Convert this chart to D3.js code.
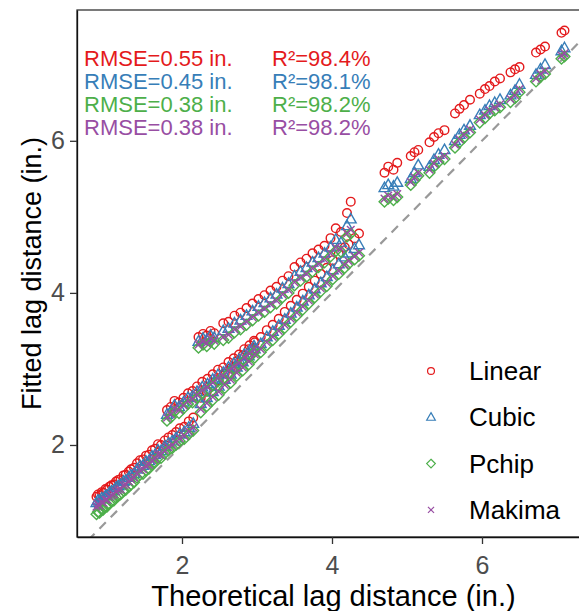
<!DOCTYPE html>
<html lang="en">
<head>
<meta charset="UTF-8">
<title>Fitted vs theoretical lag distance</title>
<script src="https://d3js.org/d3.v7.min.js"></script>
<style>
  body { margin: 0; background: #fff; }
  svg text { font-family: "Liberation Sans", Arial, sans-serif; }
</style>
</head>
<body>
<svg id="chart" width="579" height="611"></svg>
<script>
// theoretical lag distance (in.), shared by all four fits
var lagX = [
  // lower band
  0.86, 0.88, 0.90, 0.93, 0.95, 0.98, 1.00, 1.03, 1.06, 1.09, 1.12, 1.15, 1.18, 1.22, 1.25, 1.29, 1.32, 1.36,
  1.40, 1.44, 1.48, 1.52, 1.56, 1.60, 1.64, 1.68, 1.72, 1.77, 1.82, 1.87, 1.92, 1.97, 2.03, 2.09, 2.15,
  // middle band
  1.80, 1.85, 1.90, 1.96, 2.02, 2.08, 2.14, 2.20, 2.27, 2.34, 2.41, 2.48, 2.55, 2.62, 2.69, 2.76, 2.83, 2.90, 2.96,
  // small cluster near 3.4
  2.22, 2.28, 2.33, 2.38, 2.43,
  // upper band
  2.55, 2.62, 2.70, 2.78, 2.86, 2.94, 3.02, 3.10, 3.18, 3.26, 3.34, 3.42, 3.50, 3.58, 3.66, 3.74, 3.82, 3.90,
  3.98, 4.05, 4.12, 4.20, 4.25,
  // band close to the 1:1 line
  2.25, 2.33, 2.41, 2.49, 2.57, 2.65, 2.73, 2.81, 2.89, 2.97, 3.05, 3.13, 3.21, 3.29, 3.37, 3.45, 3.53, 3.61,
  3.69, 3.77, 3.85, 3.93, 4.01, 4.09, 4.17, 4.22, 4.30, 4.36,
  // long lags
  4.70, 4.75, 4.82, 4.87, 5.05, 5.10, 5.15, 5.30, 5.36, 5.42, 5.50, 5.64, 5.70, 5.76, 5.84, 5.97, 6.04, 6.10,
  6.17, 6.24, 6.38, 6.44, 6.50, 6.72, 6.78, 6.84, 7.06, 7.10
];

var linearY = [
  1.32, 1.35, 1.33, 1.38, 1.37, 1.42, 1.41, 1.45, 1.47, 1.48, 1.52, 1.54, 1.55, 1.60, 1.61, 1.65, 1.68, 1.70,
  1.76, 1.80, 1.81, 1.86, 1.87, 1.93, 1.95, 2.01, 2.00, 2.06, 2.10, 2.13, 2.17, 2.22, 2.24, 2.31, 2.36,
  2.46, 2.50, 2.58, 2.56, 2.62, 2.68, 2.71, 2.77, 2.83, 2.87, 2.93, 2.99, 3.02, 3.09, 3.14, 3.19, 3.26, 3.31, 3.37,
  3.42, 3.46, 3.44, 3.50, 3.47,
  3.60, 3.62, 3.70, 3.74, 3.80, 3.86, 3.92, 3.97, 4.03, 4.08, 4.16, 4.22, 4.34, 4.40, 4.45, 4.52, 4.57, 4.62,
  4.72, 4.85, 4.80, 5.05, 5.20,
  2.62, 2.70, 2.78, 2.85, 2.94, 3.01, 3.10, 3.18, 3.26, 3.35, 3.42, 3.51, 3.58, 3.66, 3.75, 3.83, 3.91, 3.99,
  4.08, 4.16, 4.25, 4.33, 4.43, 4.51, 4.60, 4.64, 4.72, 4.78,
  5.58, 5.66, 5.62, 5.71, 5.80, 5.85, 5.88, 5.98, 6.05, 6.10, 6.14, 6.36, 6.42, 6.47, 6.54, 6.62, 6.68, 6.72,
  6.78, 6.82, 6.90, 6.94, 6.97, 7.16, 7.20, 7.24, 7.42, 7.45
];

var cubicY = [
  1.24, 1.27, 1.26, 1.30, 1.29, 1.33, 1.33, 1.37, 1.39, 1.40, 1.44, 1.46, 1.47, 1.52, 1.53, 1.57, 1.60, 1.62,
  1.68, 1.72, 1.73, 1.78, 1.79, 1.85, 1.87, 1.93, 1.92, 1.98, 2.02, 2.05, 2.09, 2.14, 2.17, 2.23, 2.28,
  2.40, 2.44, 2.52, 2.50, 2.56, 2.62, 2.64, 2.70, 2.76, 2.80, 2.86, 2.92, 2.95, 3.02, 3.07, 3.12, 3.19, 3.24, 3.30,
  3.36, 3.40, 3.38, 3.44, 3.41,
  3.50, 3.53, 3.60, 3.64, 3.70, 3.76, 3.82, 3.87, 3.93, 3.98, 4.06, 4.12, 4.22, 4.28, 4.33, 4.40, 4.46, 4.52,
  4.60, 4.70, 4.66, 4.88, 4.97,
  2.54, 2.62, 2.70, 2.77, 2.86, 2.93, 3.02, 3.09, 3.17, 3.26, 3.33, 3.42, 3.49, 3.57, 3.65, 3.73, 3.81, 3.89,
  3.97, 4.05, 4.13, 4.21, 4.30, 4.38, 4.47, 4.52, 4.58, 4.63,
  5.38, 5.42, 5.40, 5.45, 5.50, 5.58, 5.68, 5.66, 5.75, 5.82, 5.88, 6.00, 6.08, 6.14, 6.20, 6.34, 6.40, 6.46,
  6.50, 6.54, 6.60, 6.66, 6.74, 6.87, 6.94, 7.00, 7.18, 7.22
];

var pchipY = [
  1.09, 1.12, 1.11, 1.15, 1.15, 1.19, 1.19, 1.23, 1.26, 1.27, 1.31, 1.33, 1.35, 1.40, 1.41, 1.45, 1.48, 1.51,
  1.57, 1.61, 1.62, 1.67, 1.69, 1.75, 1.77, 1.83, 1.83, 1.89, 1.93, 1.96, 2.00, 2.05, 2.08, 2.14, 2.19,
  2.32, 2.36, 2.44, 2.42, 2.48, 2.54, 2.56, 2.62, 2.68, 2.72, 2.78, 2.84, 2.87, 2.94, 2.99, 3.04, 3.11, 3.16, 3.22,
  3.28, 3.32, 3.30, 3.36, 3.33,
  3.38, 3.41, 3.48, 3.52, 3.58, 3.64, 3.70, 3.75, 3.81, 3.86, 3.94, 4.00, 4.10, 4.16, 4.21, 4.28, 4.34, 4.40,
  4.48, 4.55, 4.54, 4.74, 4.78,
  2.43, 2.51, 2.59, 2.66, 2.75, 2.82, 2.91, 2.98, 3.06, 3.15, 3.22, 3.31, 3.38, 3.46, 3.54, 3.62, 3.70, 3.78,
  3.86, 3.94, 4.02, 4.09, 4.18, 4.25, 4.33, 4.38, 4.44, 4.49,
  5.20, 5.24, 5.22, 5.26, 5.42, 5.48, 5.54, 5.58, 5.66, 5.72, 5.76, 5.91, 5.98, 6.04, 6.11, 6.24, 6.30, 6.36,
  6.40, 6.44, 6.51, 6.56, 6.64, 6.78, 6.84, 6.88, 7.08, 7.11
];

var makimaY = [
  1.19, 1.22, 1.20, 1.25, 1.24, 1.28, 1.28, 1.32, 1.34, 1.35, 1.39, 1.41, 1.42, 1.47, 1.48, 1.52, 1.55, 1.57,
  1.63, 1.67, 1.68, 1.73, 1.74, 1.80, 1.82, 1.88, 1.87, 1.93, 1.97, 2.00, 2.04, 2.09, 2.12, 2.18, 2.23,
  2.36, 2.40, 2.48, 2.46, 2.52, 2.58, 2.60, 2.66, 2.72, 2.76, 2.82, 2.88, 2.91, 2.98, 3.03, 3.08, 3.15, 3.20, 3.26,
  3.32, 3.36, 3.34, 3.40, 3.37,
  3.42, 3.45, 3.52, 3.56, 3.62, 3.68, 3.74, 3.79, 3.85, 3.90, 3.98, 4.04, 4.14, 4.20, 4.25, 4.32, 4.38, 4.44,
  4.52, 4.60, 4.58, 4.78, 4.83,
  2.47, 2.55, 2.63, 2.70, 2.79, 2.86, 2.95, 3.02, 3.10, 3.19, 3.26, 3.35, 3.42, 3.50, 3.58, 3.66, 3.74, 3.82,
  3.90, 3.98, 4.06, 4.13, 4.22, 4.29, 4.37, 4.42, 4.48, 4.53,
  5.24, 5.28, 5.26, 5.30, 5.46, 5.52, 5.58, 5.62, 5.70, 5.76, 5.80, 5.95, 6.02, 6.08, 6.15, 6.28, 6.34, 6.40,
  6.44, 6.48, 6.55, 6.60, 6.68, 6.82, 6.88, 6.92, 7.12, 7.15
];

var methods = ["Linear", "Cubic", "Pchip", "Makima"];
var colors = ["#E41A1C", "#377EB8", "#4DAF4A", "#984EA3"];
var rmse = ["0.55", "0.45", "0.38", "0.38"];
var r2 = ["98.4%", "98.1%", "98.2%", "98.2%"];
var xTicks = [2, 4, 6];
var yTicks = [2, 4, 6];

(function () {
  var svg = d3.select("#chart");

  var pLeft = 77, pRight = 590, pTop = 10, pBottom = 537;

  var x = d3.scaleLinear().domain([0.6, 7.44]).range([pLeft, pRight]);
  var y = d3.scaleLinear().domain([0.79, 7.72]).range([pBottom, pTop]);

  // marker shapes (open symbols like ggplot shapes 1, 2, 5, 4)
  function shapePath(name) {
    if (name == "Linear") {
      var p = d3.path(); p.moveTo(4.3, 0); p.arc(0, 0, 4.3, 0, 2 * Math.PI); return p.toString();
    }
    if (name == "Cubic") return "M0,-5.8L5.4,3.7L-5.4,3.7Z";
    if (name == "Pchip") return "M0,-5.4L5.4,0L0,5.4L-5.4,0Z";
    return "M-3.8,-3.8L3.8,3.8M-3.8,3.8L3.8,-3.8";
  }

  var seriesY = { Linear: linearY, Cubic: cubicY, Pchip: pchipY, Makima: makimaY };

  svg.append("clipPath").attr("id", "panel-clip")
    .append("rect").attr("x", pLeft).attr("y", pTop)
    .attr("width", pRight - pLeft).attr("height", pBottom - pTop);

  var panel = svg.append("g").attr("clip-path", "url(#panel-clip)");

  // 1:1 line
  panel.append("line")
    .attr("x1", x(0.6)).attr("y1", y(0.6))
    .attr("x2", x(7.44)).attr("y2", y(7.44))
    .attr("stroke", "#999")
    .attr("stroke-width", 2.2)
    .attr("stroke-dasharray", "9,7");

  methods.forEach(function (m, i) {
    panel.append("g")
      .selectAll("path")
      .data(lagX.map(function (v, j) { return [v, seriesY[m][j]]; }))
      .enter()
      .append("path")
        .attr("d", shapePath(m))
        .attr("transform", function (d) { return "translate(" + x(d[0]) + "," + y(d[1]) + ")"; })
        .attr("fill", "none")
        .attr("stroke", colors[i])
        .attr("stroke-width", 1.4);
  });

  // panel border
  svg.append("rect")
    .attr("x", pLeft).attr("y", pTop)
    .attr("width", pRight - pLeft).attr("height", pBottom - pTop)
    .attr("fill", "none").attr("stroke", "#333").attr("stroke-width", 1.3);

  // axes
  var xAxis = svg.append("g")
    .attr("transform", "translate(0," + pBottom + ")")
    .call(d3.axisBottom(x).tickValues(xTicks).tickSizeInner(7).tickSizeOuter(0)
      .tickPadding(6).tickFormat(d3.format("d")));
  var yAxis = svg.append("g")
    .attr("transform", "translate(" + pLeft + ",0)")
    .call(d3.axisLeft(y).tickValues(yTicks).tickSizeInner(7).tickSizeOuter(0)
      .tickPadding(5).tickFormat(d3.format("d")));

  [xAxis, yAxis].forEach(function (a) {
    a.select(".domain").attr("stroke", "#111").attr("stroke-width", 1.3);
    a.selectAll(".tick line").attr("stroke", "#333").attr("stroke-width", 1.3);
    a.selectAll(".tick text").attr("fill", "#4D4D4D").style("font-size", "25px")
      .style("font-family", "'Liberation Sans', Arial, sans-serif");
  });
  xAxis.selectAll(".tick text").attr("dy", "0.95em");

  // axis titles
  svg.append("text")
    .attr("x", (pLeft + pRight) / 2).attr("y", 606)
    .attr("text-anchor", "middle")
    .style("font-size", "29px")
    .text("Theoretical lag distance (in.)");

  svg.append("text")
    .attr("transform", "translate(41," + (pTop + pBottom) / 2 + ") rotate(-90)")
    .attr("text-anchor", "middle")
    .style("font-size", "27px")
    .text("Fitted lag distance (in.)");

  // fit statistics
  methods.forEach(function (m, i) {
    var ty = 66 + i * 23;
    svg.append("text").attr("x", 84).attr("y", ty)
      .attr("fill", colors[i]).style("font-size", "22px")
      .text("RMSE=" + rmse[i] + " in.");
    svg.append("text").attr("x", 272).attr("y", ty)
      .attr("fill", colors[i]).style("font-size", "22px")
      .text("R\u00B2=" + r2[i]);
  });

  // legend
  var legend = svg.append("g");
  methods.forEach(function (m, i) {
    var ly = 371 + i * 46.3;
    legend.append("path")
      .attr("d", shapePath(m))
      .attr("transform", "translate(431," + ly + ") scale(0.8)")
      .attr("fill", "none").attr("stroke", colors[i]).attr("stroke-width", 1.5);
    legend.append("text")
      .attr("x", 469).attr("y", ly).attr("dy", "0.35em")
      .style("font-size", "26px")
      .text(m);
  });
})();
</script>
</body>
</html>
